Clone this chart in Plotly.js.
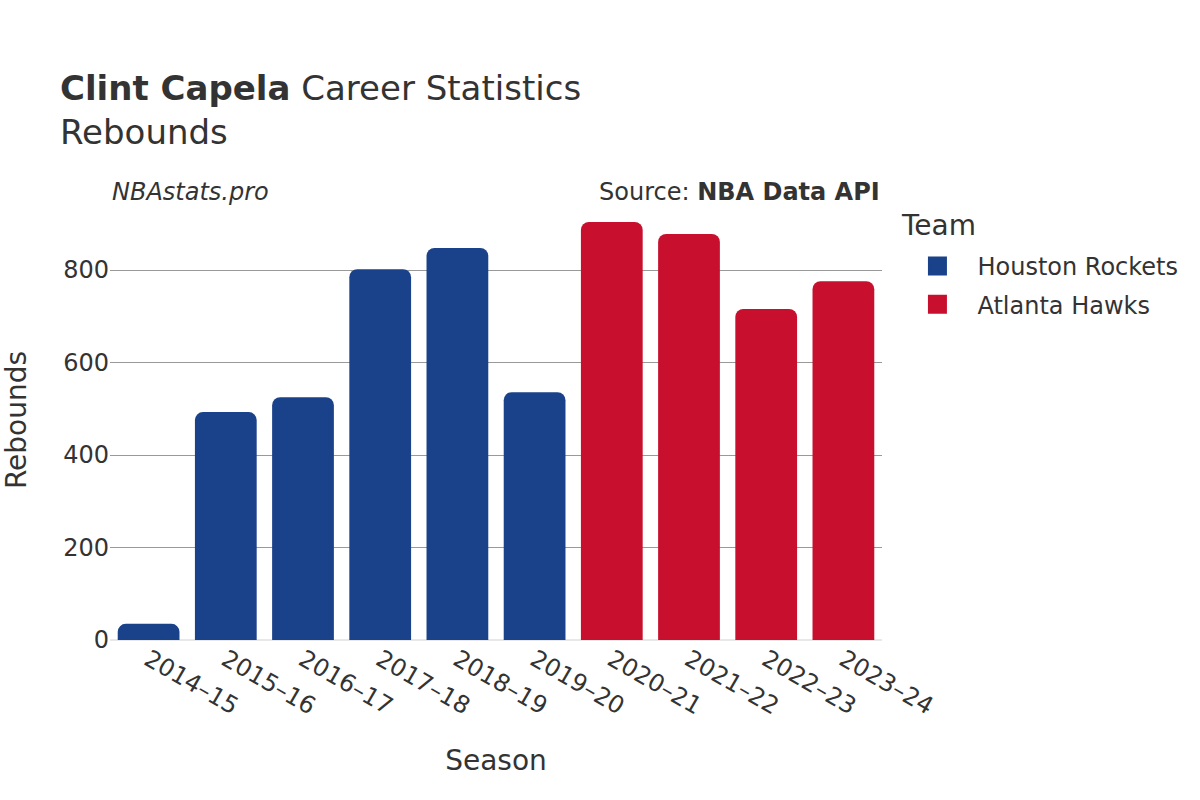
<!DOCTYPE html>
<html>
<head>
<meta charset="utf-8">
<script src="https://cdn.plot.ly/plotly-3.0.1.min.js"></script>
<style>body{margin:0;background:#fff;}#chart{width:1200px;height:800px;}</style>
</head>
<body>
<div id="chart"></div>
<script>
const seasonsHOU = ["2014–15","2015–16","2016–17","2017–18","2018–19","2019–20"];
const reboundsHOU = [35, 493, 525, 802, 848, 536];
const seasonsATL = ["2020–21","2021–22","2022–23","2023–24"];
const reboundsATL = [904, 878, 716, 776];
const teamNames = ["Houston Rockets", "Atlanta Hawks"];
const teamColors = ["#1a428a", "#c8102e"];

const traces = [
  {type:"bar", x:seasonsHOU, y:reboundsHOU, name:teamNames[0], legendgroup:"hou", showlegend:false, marker:{color:teamColors[0]}},
  {type:"bar", x:seasonsATL, y:reboundsATL, name:teamNames[1], legendgroup:"atl", showlegend:false, marker:{color:teamColors[1]}},
  {type:"scatter", mode:"markers", x:[null], y:[null], name:teamNames[0], legendgroup:"hou", hoverinfo:"skip",
   marker:{symbol:"square", size:18, color:teamColors[0], line:{color:teamColors[0], width:3}}},
  {type:"scatter", mode:"markers", x:[null], y:[null], name:teamNames[1], legendgroup:"atl", hoverinfo:"skip",
   marker:{symbol:"square", size:18, color:teamColors[1], line:{color:teamColors[1], width:3}}}
];

const font = "DejaVu Sans, sans-serif";
const layout = {
  width:1200, height:800,
  font:{family:font, size:24, color:"#333"},
  paper_bgcolor:"#fff", plot_bgcolor:"#fff",
  margin:{l:110, r:318, t:200, b:160},
  barmode:"group", bargap:0.2, barcornerradius:8,
  showlegend:true,
  title:{text:"<b>Clint Capela</b> Career Statistics<br>Rebounds", x:0.05, xanchor:"left", y:0.875, yanchor:"top", font:{family:font, size:34, color:"#333"}},
  xaxis:{title:{text:"Season", font:{size:28}, standoff:30}, tickangle:30, categoryorder:"array", categoryarray:seasonsHOU.concat(seasonsATL), showgrid:false, ticks:"", automargin:false, tickfont:{size:24}},
  yaxis:{title:{text:"Rebounds", font:{size:28}, standoff:30}, gridcolor:"#999", gridwidth:1, zeroline:true, zerolinecolor:"#e8e8e8", zerolinewidth:2, ticks:"", automargin:false, rangemode:"tozero", dtick:200, tickfont:{size:24}},
  legend:{x:1.02, y:0.9, xanchor:"left", yanchor:"top", font:{size:24}, itemwidth:70, tracegroupgap:4},
  annotations:[
    {text:"<i>NBAstats.pro</i>", xref:"paper", yref:"paper", x:0.0, y:1.018, xanchor:"left", yanchor:"middle", showarrow:false, font:{size:24}},
    {text:"Source: <b>NBA Data API</b>", xref:"paper", yref:"paper", x:1.0, y:1.018, xanchor:"right", yanchor:"middle", showarrow:false, font:{size:24}},
    {text:"Team", xref:"paper", yref:"paper", x:1.022, y:0.941, xanchor:"left", yanchor:"middle", showarrow:false, font:{size:28}}
  ]
};
Plotly.newPlot("chart", traces, layout, {displayModeBar:false});
</script>
</body>
</html>
